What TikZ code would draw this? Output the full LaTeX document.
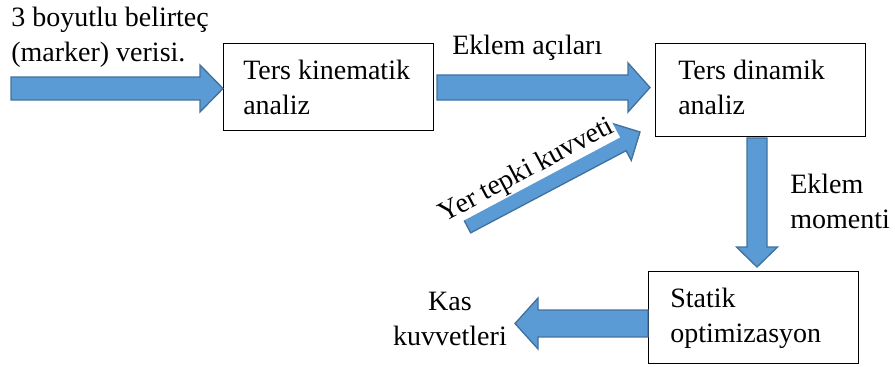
\documentclass[tikz,border=0pt]{standalone}
\usepackage{fontspec}
\setmainfont{Liberation Serif}
\usetikzlibrary{calc}
\definecolor{arrfill}{HTML}{5B9BD5}
\definecolor{arrline}{HTML}{41719C}
\tikzset{
  blkarrow/.style={fill=arrfill, draw=arrline, line width=1pt, line join=miter},
  procbox/.style={draw=black, line width=1pt, inner sep=0pt, anchor=north west},
  txt/.style={inner sep=0pt, font=\fontsize{21}{26.25}\selectfont},
}
% start, end, shaft half width, head half width, head length
\newcommand\barrow[5]{%
  \draw[blkarrow] let \p1=(#1), \p2=(#2),
    \n1={atan2(\y2-\y1,\x2-\x1)}, \n2={veclen(\x2-\x1,\y2-\y1)} in
    ([shift={(\p1)},rotate=\n1]0pt,#3) --
    ([shift={(\p1)},rotate=\n1]{\n2*1pt-#5},#3) --
    ([shift={(\p1)},rotate=\n1]{\n2*1pt-#5},#4) --
    ([shift={(\p1)},rotate=\n1]{\n2*1pt},0pt) --
    ([shift={(\p1)},rotate=\n1]{\n2*1pt-#5},-#4) --
    ([shift={(\p1)},rotate=\n1]{\n2*1pt-#5},-#3) --
    ([shift={(\p1)},rotate=\n1]0pt,-#3) -- cycle;}
\begin{document}
\begin{tikzpicture}[x=0.75pt,y=-0.75pt]
\path[use as bounding box] (0,0) rectangle (895,367);
% boxes
\node[procbox, minimum width=210*0.75pt, minimum height=87*0.75pt] (b1) at (223,43) {};
\node[procbox, minimum width=210*0.75pt, minimum height=93*0.75pt] (b2) at (655,43) {};
\node[procbox, minimum width=210*0.75pt, minimum height=92*0.75pt] (b3) at (648,271) {};
% box texts (anchor = baseline of last line)
\node[txt, anchor=base west, align=left] (t1) at (243,115) {Ters kinematik\\analiz};
\node[txt, anchor=base west, align=left] (t2) at (678,115) {Ters dinamik\\analiz};
\node[txt, anchor=base west, align=left] (t3) at (670,342) {Statik\\optimizasyon};
% arrow end points
\coordinate (a1s) at (11,88.5);
\coordinate (a1e) at (223,88.5);
\coordinate (a2s) at (437,87.5);
\coordinate (a2e) at (650,87.5);
\coordinate (a3s) at (466,224);
\coordinate (a3e) at (640,132);
\coordinate (a4s) at (757,138);
\coordinate (a4e) at (757,267);
\coordinate (a5s) at (648,323.5);
\coordinate (a5e) at (515,323.5);
\barrow{a1s}{a1e}{8.6pt}{17.6pt}{17.25pt}
\barrow{a2s}{a2e}{9.4pt}{18.4pt}{16.5pt}
\barrow{a3s}{a3e}{7.5pt}{15.75pt}{15.75pt}
\barrow{a4s}{a4e}{7.5pt}{15.4pt}{15pt}
\barrow{a5s}{a5e}{10.1pt}{19.1pt}{17.25pt}
% labels
\node[txt, anchor=base west, align=left] (l1) at (11,62) {3 boyutlu belirteç\\(marker) verisi.};
\node[txt, anchor=base west] (l2) at (452,55) {Eklem açıları};
\node[txt, fill=white, inner sep=1pt, rotate=28] (l3) at (527,171) {Yer tepki kuvveti};
\node[txt, anchor=base west, align=left] (l4) at (790,228) {Eklem\\momenti};
\node[txt, anchor=base, align=center] (l5) at (450,345) {Kas\\kuvvetleri};
\end{tikzpicture}
\end{document}
